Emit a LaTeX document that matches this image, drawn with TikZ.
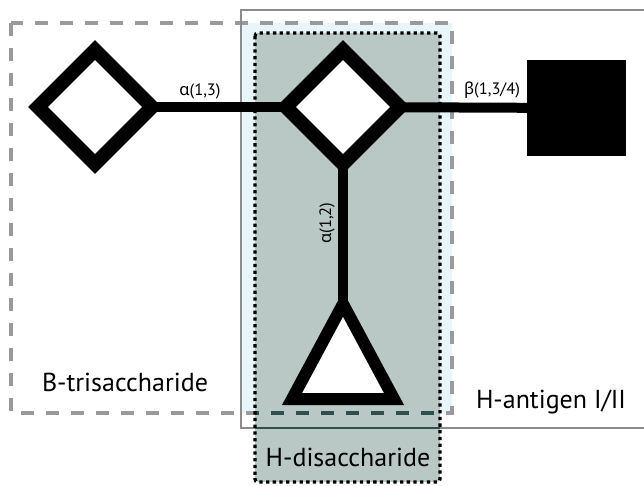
\documentclass[tikz,border=0pt]{standalone}
\usepackage{fontspec}
\setmainfont{PT Sans}
\newfontfamily\grk{Noto Sans}
\usetikzlibrary{shapes.geometric}
\pgfdeclarelayer{back}
\pgfdeclarelayer{links}
\pgfsetlayers{back,links,main}
\definecolor{lblue}{HTML}{E8F5FB}
\definecolor{hgray}{HTML}{B9C8C4}
\definecolor{dgray}{HTML}{9A9A9A}
\definecolor{slate}{HTML}{2F4F4F}
\definecolor{framec}{HTML}{8C8C8C}
\tikzset{
  sugar/.style={diamond, draw=black, fill=white, line width=14pt, line join=miter,
    inner sep=0pt, outer sep=0pt, minimum width=114pt, minimum height=114pt, aspect=1},
  link/.style={line width=10pt, black},
  linklabel/.style={font=\fontsize{16.5}{19}\selectfont, inner sep=0pt},
  boxlabel/.style={font=\fontsize{26}{30}\selectfont, inner sep=0pt},
  btri/.style={line width=3.5pt, dash pattern=on 13pt off 12pt},
  hdis/.style={line width=3.3pt, dash pattern=on 3.3pt off 3.4pt, black, rounded corners=3pt},
}
\begin{document}
\begin{tikzpicture}[x=1pt,y=-1pt]
\useasboundingbox (0,0) rectangle (644,485);
\begin{pgfonlayer}{back}
% fills
\fill[lblue] (241,23) rectangle (452,413);
\fill[hgray, rounded corners=3pt] (255,33) rectangle (440,482);
% B-trisaccharide box
\draw[btri, dgray] (11,23) rectangle (452,413);
% H-antigen box (open to the right)
\draw[framec, line width=1.5pt] (644,10) -- (241,10) -- (241,428) -- (644,428);
% darker parts of lines inside the H-disaccharide area
\begin{scope}
  \clip (255,33) rectangle (440,482);
  \draw[btri, slate] (11,23) rectangle (452,413);
  \draw[slate, line width=1.5pt] (644,10) -- (241,10) -- (241,428) -- (644,428);
\end{scope}
% H-disaccharide border
\draw[hdis] (255,33) rectangle (440,482);
\end{pgfonlayer}

% sugars
\coordinate (tri) at (343,304);
\node[sugar] (gal) at (95,107) {};
\node[sugar] (gal2) at (343,107) {};
\node[fill=black, inner sep=0pt, outer sep=0pt, minimum width=99pt, minimum height=96pt] (glc) at (576.5,108) {};
% triangle (fucose)
\draw[line width=12pt, line join=miter, fill=white] (tri) -- (394,399) -- (292,399) -- cycle;

% connectors
\begin{pgfonlayer}{links}
\draw[link] (gal.center) -- (gal2.center);
\draw[link] (gal2.center) -- (glc.center);
\draw[link] (gal2.center) -- (tri);
\end{pgfonlayer}

% linkage labels
\node[linklabel] (l13) at (200,91) {{\grk α}(1,3)};
\node[linklabel] (l134) at (492,90) {{\grk β}(1,3/4)};
\node[linklabel, rotate=90] (l12) at (327,223) {{\grk α}(1,2)};

% box labels
\node[boxlabel] (tB) at (125,382) {B-trisaccharide};
\node[boxlabel] (tH) at (551,402) {H-antigen I/II};
\node[boxlabel] (tHd) at (348,457) {H-disaccharide};
\end{tikzpicture}
\end{document}
